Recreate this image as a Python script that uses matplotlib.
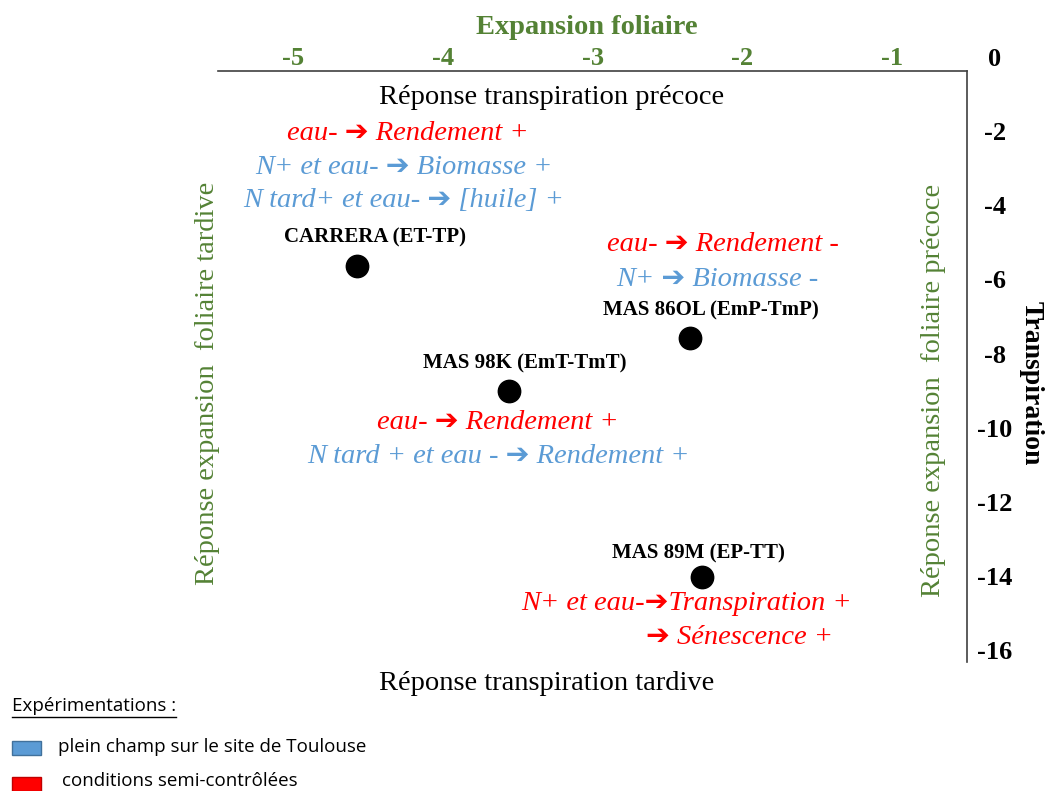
import matplotlib.pyplot as plt
from matplotlib.patches import Rectangle

# Data
varieties = ['CARRERA (ET-TP)', 'MAS 86OL (EmP-TmP)', 'MAS 98K (EmT-TmT)', 'MAS 89M (EP-TT)']
expansion = [-4.57, -2.35, -3.56, -2.27]
transpiration = [-5.64, -7.58, -9.01, -14.03]

x_ticks = [-5, -4, -3, -2, -1]
y_ticks = [0, -2, -4, -6, -8, -10, -12, -14, -16]

# Notes around the points: (text, colour, x, y) in data units
RED = '#FF0000'
BLUE = '#5B9BD5'
GREEN = '#548235'
ARR = '\u2794'
notes = [
    ('eau- ' + ARR + ' Rendement +', RED, -4.23, -2.05),
    ('N+ et eau- ' + ARR + ' Biomasse +', BLUE, -4.26, -2.97),
    ('N tard+ et eau- ' + ARR + ' [huile] +', BLUE, -4.26, -3.88),
    ('eau- ' + ARR + ' Rendement -', RED, -2.13, -5.07),
    ('N+ ' + ARR + ' Biomasse -', BLUE, -2.17, -5.99),
    ('eau- ' + ARR + ' Rendement +', RED, -3.63, -9.87),
    ('N tard + et eau - ' + ARR + ' Rendement +', BLUE, -3.63, -10.79),
    ('N+ et eau-' + ARR + 'Transpiration +', RED, -2.37, -14.73),
    (ARR + ' S\u00e9nescence +', RED, -2.02, -15.65),
]
label_pos = [(-4.45, -4.86), (-2.21, -6.85), (-3.45, -8.28), (-2.29, -13.38)]

serif = ['Liberation Serif', 'DejaVu Sans']
sans = ['Open Sans', 'DejaVu Sans']

fig = plt.figure(figsize=(10.45, 7.91), dpi=100)
ax = fig.add_axes([0.2086, 0.1631, 0.9254 - 0.2086, 0.9279 - 0.1631])

ax.scatter(expansion, transpiration, s=260, color='black', zorder=3)

ax.set_xlim(-5.5, -0.5)
ax.set_ylim(-16.32, 0)

# axes look: a top line at the crossing point and a right line
ax.spines['left'].set_visible(False)
ax.spines['bottom'].set_visible(False)
ax.spines['top'].set_position(('data', -0.38))
ax.spines['right'].set_bounds(-16.32, -0.38)
for s in ['top', 'right']:
    ax.spines[s].set_color('#404040')
    ax.spines[s].set_linewidth(1.2)

ax.xaxis.tick_top()
ax.set_xticks(x_ticks)
ax.set_xticklabels([str(v) for v in x_ticks], fontfamily=serif, fontweight='bold',
                   fontsize=19, color=GREEN)
ax.tick_params(axis='x', length=0, pad=1)

ax.yaxis.tick_right()
ax.set_yticks(y_ticks)
ax.set_yticklabels([str(v) for v in y_ticks], fontfamily=serif, fontweight='bold',
                   fontsize=19, color='black', ha='center')
ax.tick_params(axis='y', length=0, pad=20)

# axis titles
fig.text(587 / 1045, 1 - 28 / 791, 'Expansion foliaire', ha='center', va='center',
         fontfamily=serif, fontweight='bold', fontsize=20.5, color=GREEN)
fig.text(1031 / 1045, 1 - 383 / 791, 'Transpiration', ha='center', va='center',
         rotation=270, fontfamily=serif, fontweight='bold', fontsize=20)

# quadrant titles
fig.text(552 / 1045, 1 - 97 / 791, 'R\u00e9ponse transpiration pr\u00e9coce', ha='center',
         va='center', fontfamily=serif, fontsize=20.5)
fig.text(547 / 1045, 1 - 683 / 791, 'R\u00e9ponse transpiration tardive', ha='center',
         va='center', fontfamily=serif, fontsize=20.5)
fig.text(207 / 1045, 1 - 383 / 791, 'R\u00e9ponse expansion  foliaire tardive', ha='center',
         va='center', rotation=90, fontfamily=serif, fontsize=20.5, color=GREEN)
fig.text(933 / 1045, 1 - 390 / 791, 'R\u00e9ponse expansion  foliaire pr\u00e9coce', ha='center',
         va='center', rotation=90, fontfamily=serif, fontsize=20.5, color=GREEN)

for name, (lx, ly) in zip(varieties, label_pos):
    ax.text(lx, ly, name, ha='center', va='center', fontfamily=serif,
            fontweight='bold', fontsize=15, clip_on=False)

for txt, col, tx, ty in notes:
    ax.text(tx, ty, txt, ha='center', va='center', fontfamily=serif,
            fontstyle='italic', fontsize=20.5, color=col, clip_on=False)

# legend block at the bottom left
fig.text(12 / 1045, 1 - 706 / 791, 'Exp\u00e9rimentations :', ha='left', va='center',
         fontfamily=sans, fontsize=13.5)
fig.add_artist(plt.Line2D([12 / 1045, 176 / 1045], [1 - 717 / 791, 1 - 717 / 791],
                          color='black', lw=1))
fig.add_artist(Rectangle((12 / 1045, 1 - 755 / 791), 29 / 1045, 14 / 791,
                         facecolor=BLUE, edgecolor='#41719C', lw=1))
fig.text(58 / 1045, 1 - 747 / 791, 'plein champ sur le site de Toulouse', ha='left',
         va='center', fontfamily=sans, fontsize=13.5)
fig.add_artist(Rectangle((12 / 1045, 1 - 791 / 791), 29 / 1045, 14 / 791,
                         facecolor=RED, edgecolor='#C00000', lw=1))
fig.text(62 / 1045, 1 - 781 / 791, 'conditions semi-contr\u00f4l\u00e9es', ha='left',
         va='center', fontfamily=sans, fontsize=13.5)

plt.savefig('out.png', dpi=100)
